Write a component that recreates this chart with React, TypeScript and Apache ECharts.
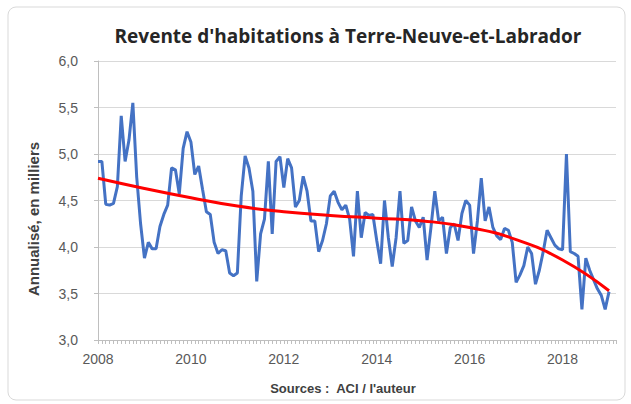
import React, { useEffect, useRef } from "react";
import * as echarts from "echarts";

const startYear = 2008;
// Monthly values, Jan 2008 .. Jan 2019 (thousands, annualized)
const v2008 = [4.92, 4.92, 4.46, 4.45, 4.47, 4.65, 5.41, 4.92, 5.15, 5.55, 4.75, 4.25];
const v2009 = [3.88, 4.05, 3.98, 3.98, 4.22, 4.35, 4.45, 4.85, 4.83, 4.57, 5.06, 5.24];
const v2010 = [5.13, 4.78, 4.87, 4.62, 4.38, 4.35, 4.05, 3.93, 3.97, 3.96, 3.72, 3.69];
const v2011 = [3.72, 4.55, 4.98, 4.85, 4.6, 3.63, 4.14, 4.3, 4.92, 4.14, 4.92, 4.97];
const v2012 = [4.64, 4.95, 4.85, 4.43, 4.5, 4.76, 4.6, 4.28, 4.28, 3.95, 4.07, 4.25];
const v2013 = [4.55, 4.6, 4.48, 4.4, 4.45, 4.3, 3.9, 4.6, 4.1, 4.37, 4.34, 4.35];
const v2014 = [4.07, 3.82, 4.5, 4.1, 3.79, 4.1, 4.6, 4.04, 4.07, 4.43, 4.28, 4.21];
const v2015 = [4.32, 3.86, 4.21, 4.6, 4.28, 4.32, 3.93, 4.21, 4.25, 4.07, 4.36, 4.5];
const v2016 = [4.45, 3.93, 4.28, 4.74, 4.28, 4.43, 4.21, 4.12, 4.08, 4.2, 4.18, 4.05];
const v2017 = [3.62, 3.7, 3.8, 4.0, 3.93, 3.6, 3.75, 3.95, 4.18, 4.1, 4.02, 3.98];
const v2018 = [3.97, 5.0, 3.95, 3.93, 3.9, 3.33, 3.88, 3.75, 3.65, 3.55, 3.48, 3.33];
const v2019 = [3.52];

// Trend line (red), read at each January
const trendYears = [2008, 2009, 2010, 2011, 2012, 2013, 2014, 2015, 2016, 2017, 2018, 2019];
const trendValues = [4.74, 4.63, 4.53, 4.44, 4.38, 4.34, 4.31, 4.28, 4.21, 4.08, 3.86, 3.53];

const xTickLabels = [2008, 2010, 2012, 2014, 2016, 2018];

const title = "Revente d'habitations à Terre-Neuve-et-Labrador";
const yName = "Annualisé, en milliers";
const xName = "Sources :  ACI / l'auteur";

export default function App() {
  const ref = useRef<HTMLDivElement>(null);
  useEffect(() => {
    if (!ref.current) return;
    const chart = echarts.init(ref.current, null, { renderer: "svg" });
    const monthly = [
      ...v2008, ...v2009, ...v2010, ...v2011, ...v2012, ...v2013,
      ...v2014, ...v2015, ...v2016, ...v2017, ...v2018, ...v2019,
    ];
    const blue = monthly.map((v, i) => [startYear + i / 12, v]);
    const red = trendYears.map((y, i) => [y, trendValues[i]]);
    const font = "'Liberation Sans', Arial, sans-serif";
    const titleFont = "'Open Sans', 'Liberation Sans', sans-serif";
    chart.setOption({
      animation: false,
      backgroundColor: "#ffffff",
      grid: { left: 98, right: 15, top: 61, bottom: 64 },
      xAxis: {
        type: "value",
        min: 2008,
        max: 2019.15,
        interval: 2,
        axisLine: { show: true, lineStyle: { color: "#bfbfbf", width: 1 } },
        axisTick: { show: true, length: 4, lineStyle: { color: "#bfbfbf" } },
        minorTick: { show: true, splitNumber: 24, length: 4, lineStyle: { color: "#bfbfbf" } },
        splitLine: { show: false },
        axisLabel: {
          margin: 12,
          color: "#595959",
          fontSize: 14,
          fontFamily: font,
          formatter: (v: number) => (xTickLabels.includes(v) ? String(v) : ""),
        },
      },
      yAxis: {
        type: "value",
        min: 3,
        max: 6,
        interval: 0.5,
        axisLine: { show: true, lineStyle: { color: "#bfbfbf", width: 1 } },
        axisTick: { show: true, length: 4, lineStyle: { color: "#bfbfbf" } },
        splitLine: { show: true, lineStyle: { color: "#d9d9d9", width: 1 } },
        axisLabel: {
          margin: 20,
          color: "#595959",
          fontSize: 14,
          fontFamily: font,
          formatter: (v: number) => v.toFixed(1).replace(".", ","),
        },
      },
      graphic: [
        {
          type: "rect",
          shape: { x: 8, y: 7, width: 617, height: 393, r: 8 },
          style: { fill: "none", stroke: "#d9d9d9", lineWidth: 1 },
          silent: true,
        },
        {
          type: "text",
          x: 348,
          y: 36,
          style: {
            text: title,
            fontSize: 19,
            fontWeight: "bold",
            fontFamily: titleFont,
            fill: "#262626",
            align: "center",
            verticalAlign: "middle",
          },
        },
        {
          type: "text",
          x: 343,
          y: 388,
          style: {
            text: xName,
            fontSize: 13,
            fontWeight: "bold",
            fontFamily: font,
            fill: "#404040",
            align: "center",
            verticalAlign: "middle",
          },
        },
        {
          type: "text",
          x: 33,
          y: 219,
          rotation: Math.PI / 2,
          style: {
            text: yName,
            fontSize: 15,
            fontWeight: "bold",
            fontFamily: font,
            fill: "#404040",
            align: "center",
            verticalAlign: "middle",
          },
        },
      ],
      series: [
        {
          type: "line",
          data: blue,
          showSymbol: false,
          lineStyle: { color: "#4472c4", width: 3 },
          itemStyle: { color: "#4472c4" },
          z: 2,
        },
        {
          type: "line",
          data: red,
          smooth: true,
          showSymbol: false,
          lineStyle: { color: "#ff0000", width: 3 },
          itemStyle: { color: "#ff0000" },
          z: 3,
        },
      ],
    });
    return () => chart.dispose();
  }, []);
  return (
    <div
      ref={ref}
      style={{ position: "absolute", left: 0, top: 0, width: 631, height: 404 }}
    />
  );
}
